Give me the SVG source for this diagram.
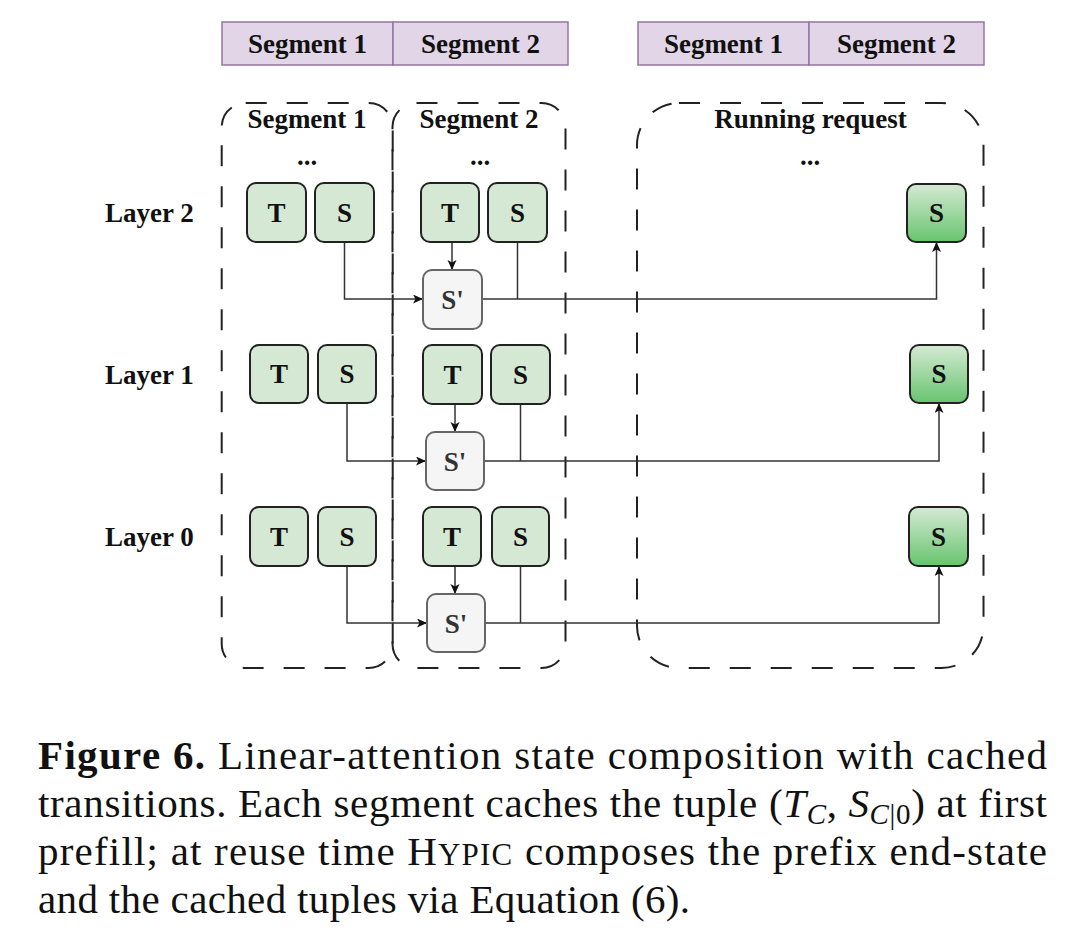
<svg xmlns="http://www.w3.org/2000/svg" width="1080" height="941" viewBox="0 0 1080 941">
  <style>
    .lbl { font-family: "Liberation Serif", "Times New Roman", serif; font-weight: bold; font-size: 27px; fill: #111; }
    .mid { text-anchor: middle; }
    .bar { fill: #e1d5e7; stroke: #9673a6; stroke-width: 1.5; }
    .cont { fill: none; stroke: #222; stroke-width: 2; stroke-dasharray: 21 20; }
    .ts { fill: #d5e8d4; stroke: #222; stroke-width: 2; }
    .sp { fill: #f5f5f5; stroke: #666; stroke-width: 2; }
    .gs { fill: url(#grn); stroke: #222; stroke-width: 2; }
    .con { fill: none; stroke: #333; stroke-width: 1.5; }
    .cap { font-family: "Liberation Serif", "Times New Roman", serif; font-size: 41px; fill: #111; }
  </style>
  <defs>
    <linearGradient id="grn" x1="0" y1="0" x2="0" y2="1">
      <stop offset="0" stop-color="#d5ead3"/>
      <stop offset="1" stop-color="#67c46f"/>
    </linearGradient>
    <marker id="arr" markerUnits="userSpaceOnUse" markerWidth="11" markerHeight="10" refX="10" refY="4.5" orient="auto">
      <path d="M0,0 L10,4.5 L0,9 L2.5,4.5 Z" fill="#111"/>
    </marker>
  </defs>

  <rect width="1080" height="941" fill="#fff"/>

  <!-- top bars -->
  <g id="bar-left">
    <rect class="bar" x="222" y="22" width="171" height="43"/>
    <rect class="bar" x="393" y="22" width="175" height="43"/>
    <text class="lbl mid" x="307.5" y="53">Segment 1</text>
    <text class="lbl mid" x="480.5" y="53">Segment 2</text>
  </g>
  <g id="bar-right">
    <rect class="bar" x="638" y="22" width="171" height="43"/>
    <rect class="bar" x="809" y="22" width="175" height="43"/>
    <text class="lbl mid" x="723.5" y="53">Segment 1</text>
    <text class="lbl mid" x="896.5" y="53">Segment 2</text>
  </g>

  <!-- containers -->
  <g id="container-seg1">
    <rect class="cont" x="221.7" y="103" width="171" height="565" rx="24"/>
    <text class="lbl mid" x="307" y="128">Segment 1</text>
    <text class="lbl mid" x="307" y="165">...</text>
  </g>
  <g id="container-seg2">
    <rect class="cont" x="392.5" y="103" width="173" height="565" rx="24"/>
    <text class="lbl mid" x="479" y="128">Segment 2</text>
    <text class="lbl mid" x="480" y="165">...</text>
  </g>
  <g id="container-running">
    <rect class="cont" x="637" y="103" width="346.5" height="565" rx="42"/>
    <text class="lbl mid" x="810.5" y="128">Running request</text>
    <text class="lbl mid" x="810" y="165">...</text>
  </g>

  <!-- layer labels -->
  <g id="layer-labels">
    <text class="lbl" x="105" y="222">Layer 2</text>
    <text class="lbl" x="105" y="384">Layer 1</text>
    <text class="lbl" x="105" y="546">Layer 0</text>
  </g>

  <!-- connectors -->
  <g id="connectors">
    <path class="con" d="M344.5,242 V299 H423" marker-end="url(#arr)"/>
    <path class="con" d="M452,242 V270" marker-end="url(#arr)"/>
    <path class="con" d="M517.5,242 V299"/>
    <path class="con" d="M482,299 H936.5 V242" marker-end="url(#arr)"/>

    <path class="con" d="M347,403 V461 H426" marker-end="url(#arr)"/>
    <path class="con" d="M455,404 V432" marker-end="url(#arr)"/>
    <path class="con" d="M520.5,404 V461"/>
    <path class="con" d="M484,461 H939 V403" marker-end="url(#arr)"/>

    <path class="con" d="M347,566 V623 H427" marker-end="url(#arr)"/>
    <path class="con" d="M455,566 V594" marker-end="url(#arr)"/>
    <path class="con" d="M520.5,566 V623"/>
    <path class="con" d="M485,623 H939 V566" marker-end="url(#arr)"/>
  </g>

  <!-- Layer 2 nodes -->
  <g id="l2-seg1-T"><rect class="ts" x="247" y="183" width="59" height="59" rx="9"/><text class="lbl mid" x="276.5" y="221.5">T</text></g>
  <g id="l2-seg1-S"><rect class="ts" x="315" y="183" width="59" height="59" rx="9"/><text class="lbl mid" x="344.5" y="221.5">S</text></g>
  <g id="l2-seg2-T"><rect class="ts" x="421" y="183" width="58" height="59" rx="9"/><text class="lbl mid" x="450" y="221.5">T</text></g>
  <g id="l2-seg2-S"><rect class="ts" x="488" y="183" width="59" height="59" rx="9"/><text class="lbl mid" x="517.5" y="221.5">S</text></g>
  <g id="l2-Sprime"><rect class="sp" x="423" y="270" width="59" height="59" rx="9"/><text class="lbl mid" x="452.5" y="308.5" fill="#333" style="fill:#333">S'</text></g>
  <g id="l2-run-S"><rect class="gs" x="907" y="184" width="59" height="58" rx="9"/><text class="lbl mid" x="936.5" y="222">S</text></g>

  <!-- Layer 1 nodes -->
  <g id="l1-seg1-T"><rect class="ts" x="250" y="345" width="58" height="58" rx="9"/><text class="lbl mid" x="279" y="383">T</text></g>
  <g id="l1-seg1-S"><rect class="ts" x="318" y="345" width="58" height="58" rx="9"/><text class="lbl mid" x="347" y="383">S</text></g>
  <g id="l1-seg2-T"><rect class="ts" x="423" y="345" width="59" height="59" rx="9"/><text class="lbl mid" x="452.5" y="383.5">T</text></g>
  <g id="l1-seg2-S"><rect class="ts" x="491" y="345" width="59" height="59" rx="9"/><text class="lbl mid" x="520.5" y="383.5">S</text></g>
  <g id="l1-Sprime"><rect class="sp" x="426" y="432" width="58" height="58" rx="9"/><text class="lbl mid" x="455" y="470.5" style="fill:#333">S'</text></g>
  <g id="l1-run-S"><rect class="gs" x="910" y="345" width="58" height="58" rx="9"/><text class="lbl mid" x="939" y="383">S</text></g>

  <!-- Layer 0 nodes -->
  <g id="l0-seg1-T"><rect class="ts" x="250" y="507" width="58" height="59" rx="9"/><text class="lbl mid" x="279" y="545.5">T</text></g>
  <g id="l0-seg1-S"><rect class="ts" x="318" y="507" width="58" height="59" rx="9"/><text class="lbl mid" x="347" y="545.5">S</text></g>
  <g id="l0-seg2-T"><rect class="ts" x="423" y="507" width="58" height="59" rx="9"/><text class="lbl mid" x="452" y="545.5">T</text></g>
  <g id="l0-seg2-S"><rect class="ts" x="492" y="507" width="57" height="59" rx="9"/><text class="lbl mid" x="520.5" y="545.5">S</text></g>
  <g id="l0-Sprime"><rect class="sp" x="427" y="594" width="58" height="58" rx="9"/><text class="lbl mid" x="456" y="632.5" style="fill:#333">S'</text></g>
  <g id="l0-run-S"><rect class="gs" x="909" y="507" width="59" height="59" rx="9"/><text class="lbl mid" x="938.5" y="545.5">S</text></g>

  <!-- caption -->
  <g id="caption">
    <text class="cap" x="38" y="769" textLength="1009" lengthAdjust="spacing"><tspan font-weight="bold">Figure 6.</tspan> Linear-attention state composition with cached</text>
    <text class="cap" x="38" y="817" textLength="1009" lengthAdjust="spacing">transitions. Each segment caches the tuple (<tspan font-style="italic">T</tspan><tspan font-style="italic" font-size="29" dy="7">C</tspan><tspan dy="-7">, </tspan><tspan font-style="italic">S</tspan><tspan font-size="29" dy="7"><tspan font-style="italic">C</tspan>|0</tspan><tspan dy="-7">) at first</tspan></text>
    <text class="cap" x="38" y="865" textLength="1009" lengthAdjust="spacing">prefill; at reuse time H<tspan font-size="31">YPIC</tspan> composes the prefix end-state</text>
    <text class="cap" x="38" y="913" textLength="652" lengthAdjust="spacing">and the cached tuples via Equation (6).</text>
  </g>
</svg>
